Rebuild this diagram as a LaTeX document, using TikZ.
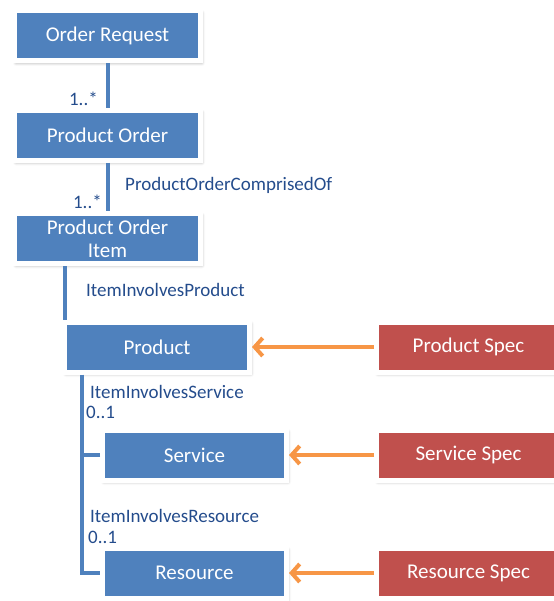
\documentclass[tikz,border=0pt]{standalone}
\usepackage{fontspec}
\setmainfont{Carlito}
\usetikzlibrary{arrows.meta,shadows.blur,calc}

\definecolor{boxblue}{RGB}{79,129,189}
\definecolor{boxred}{RGB}{192,80,77}
\definecolor{linkorange}{RGB}{247,150,70}
\definecolor{labelblue}{RGB}{36,76,140}

\tikzset{
  entity/.style={draw=white, line width=5pt, text=white, align=center,
    font=\fontsize{21}{23}\selectfont, inner sep=0pt,
    minimum width=#1, minimum height=50pt,
    blur shadow={shadow xshift=1.5pt, shadow yshift=-2pt,
      shadow blur radius=3pt, shadow opacity=35}},
  bluebox/.style={entity=#1, fill=boxblue},
  redbox/.style={entity=#1, fill=boxred},
  link/.style={draw=boxblue, line width=4pt},
  specarrow/.style={draw=linkorange, line width=4pt,
    -{Straight Barb[length=8pt,width=18pt,line width=4pt]}},
  rolelabel/.style={text=labelblue, font=\fontsize{19}{20}\selectfont,
    inner sep=0pt, anchor=base west},
  multlabel/.style={text=labelblue, font=\fontsize{19}{20}\selectfont,
    inner sep=0pt, anchor=base east}
}

\begin{document}
\begin{tikzpicture}[x=1pt, y=-1pt]
\useasboundingbox (0,0) rectangle (553,601);

% order chain
\node[bluebox=186pt] (req)  at (107.5,36)    {Order Request};
\node[bluebox=186pt] (ord)  at (107.5,135.5) {Product Order};
\node[bluebox=186pt] (item) at (107.5,238.5) {Product Order\\Item};

% product, service, resource
\node[bluebox=185pt] (prod) at (157,347)   {Product};
\node[bluebox=184pt] (serv) at (194.5,455) {Service};
\node[bluebox=184pt] (res)  at (194.5,573) {Resource};

% specifications
\node[redbox=184pt] (pspec) at (468.5,347) {Product Spec};
\node[redbox=184pt] (sspec) at (468.5,455) {Service Spec};
\node[redbox=184pt] (rspec) at (468.5,573) {Resource Spec};

% trunk points below the item and the product
\coordinate (itemtrunk) at ([xshift=3pt]prod.north west);
\coordinate (prodtrunk) at ([xshift=20pt]prod.south west);

% composition links
\draw[link] (req.south) -- (ord.north);
\draw[link] (ord.south) -- (item.north);
\draw[link] (itemtrunk) -- (itemtrunk |- item.south);
\draw[link] (prodtrunk) |- (res.west);
\draw[link] (serv.west) -- (serv.west -| prodtrunk);

% specification arrows
\draw[specarrow] (pspec.west) -- (prod.east);
\draw[specarrow] (sspec.west) -- (serv.east);
\draw[specarrow] (rspec.west) -- (res.east);

% role names and multiplicities
\node[multlabel] (m1) at (98,106) {1..*};
\node[multlabel] (m2) at (102,209) {1..*};
\node[rolelabel] (r1) at (125,191) {ProductOrderComprisedOf};
\node[rolelabel] (r2) at (86,296)  {ItemInvolvesProduct};
\node[rolelabel] (r3) at (90,398)  {ItemInvolvesService};
\node[rolelabel] (m3) at (86,418)  {0..1};
\node[rolelabel] (r4) at (90,522)  {ItemInvolvesResource};
\node[rolelabel] (m4) at (88,543)  {0..1};
\end{tikzpicture}
\end{document}
